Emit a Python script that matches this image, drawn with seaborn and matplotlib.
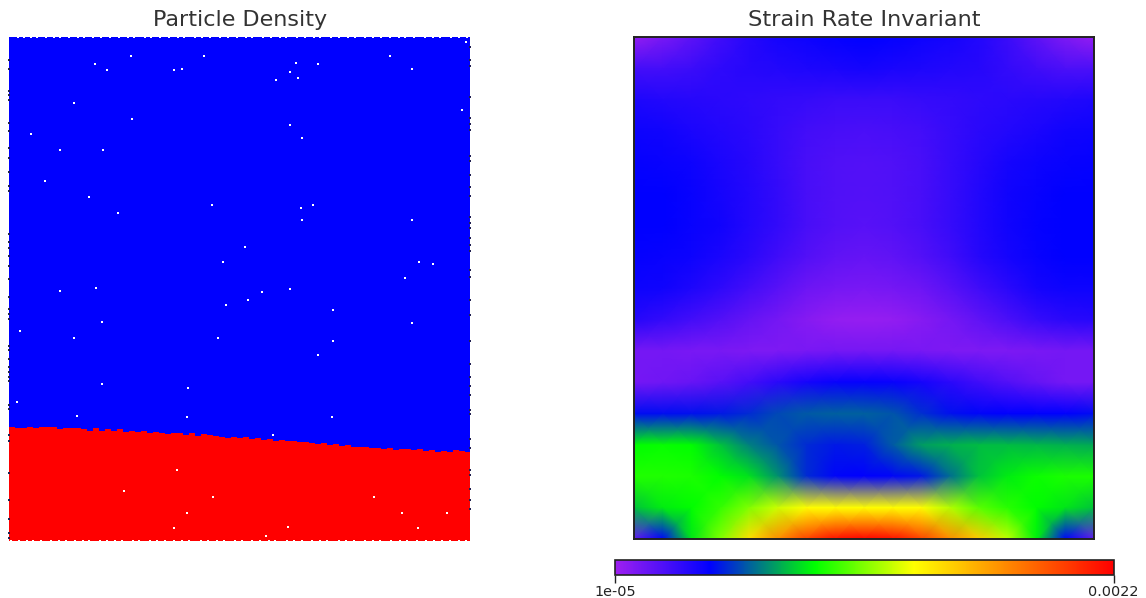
import numpy as np
import matplotlib
matplotlib.use("Agg")
import matplotlib.pyplot as plt
from matplotlib.colors import ListedColormap, LinearSegmentedColormap
import seaborn as sns

W, H = 1146, 598

# Particle panel: domain is 462 wide, 504 deep (top = 0)
interface_depth = [390.3,391.3,391.3,389.7,391.3,390.3,389.7,389.7,392.3,391.3,391.3,391.3,392.3,393.7,391.3,
                   393.7,392.3,393.7,392.3,394.7,393.7,394.7,393.7,395.7,394.7,395.7,397,396.3,395.7,398,
                   396.3,399,397,398,399,399.7,401.3,400.3,401.3,400.3,402.3,401.3,403,402.3,403.7,403,
                   404.3,403.7,404.7,404.7,405.7,407,406.3,407.7,407,409,407.7,409.7,410.3,409.7,411,
                   410.7,412,411.3,413,412.3,411.7,413,412.3,413.7,413,414.7,413.7,414.7,413,413.7,415.3]
holes_x = [122,86,98,165,173,195,267,281,287,289,309,381,403,457,453,281,293,304,292,293,403,236,
           65,123,22,51,94,36,80,109,203,214,410,424,396,51,87,253,281,239,217,324,93,403,11,65,209,324,
           309,93,179,8,68,178,323,264,168,115,204,365,178,393,438,165,279,409,257]
holes_y = [19,27,33,33,32,19,43,35,26,41,27,19,32,5,73,88,101,168,171,183,183,210,
           66,82,97,113,113,144,160,176,168,225,225,227,241,254,251,255,252,263,268,273,285,286,294,301,301,304,
           318,347,351,365,379,380,380,398,433,454,460,460,476,476,476,491,490,491,499]
top_gaps = [9,15,22,28,37,45,51,60,69,75,84,92,101,110,119,125,136,142,151,160,169,175,186,193,
            201,211,219,228,237,243,254,262,271,277,288,296,305,311,322,330,339,346,356,364,372,381,390,396,405,416,424,431,442,450,458]
bottom_gaps = [2,10,18,24,32,42,50,57,66,74,80,91,98,106,113,124,130,141,148,156,165,173,180,192,
               199,208,215,226,233,243,251,260,266,278,285,293,303,311,318,330,337,345,356,364,371,382,391,398,408,417,425,433,441,450,457]
left_ticks = [23,32,54,58,63,86,94,111,121,135,149,154,197,205,211,219,229,242,260,272,277,282,309,313,322,330,335,340,344,368,372,398,404,436,463,482,496,501]
right_ticks = [10,23,29,60,81,87,93,119,124,138,150,159,180,186,191,201,208,214,233,240,263,278,304,327,340,349,358,373,377,402,411,433,438,452,463,472]

# Strain rate panel: 17 x 17 mesh nodes, position along the colour scale, top row first
strain = np.array([
 [.015,.045,.08,.115,.145,.165,.175,.185,.19,.185,.175,.165,.15,.12,.08,.04,.015],
 [.11,.11,.12,.135,.145,.15,.155,.16,.165,.16,.155,.15,.145,.13,.115,.10,.10],
 [.155,.15,.145,.14,.135,.13,.125,.12,.12,.12,.125,.13,.135,.14,.145,.15,.155],
 [.175,.17,.16,.15,.14,.125,.11,.105,.10,.105,.11,.125,.14,.15,.16,.17,.175],
 [.185,.18,.175,.16,.145,.125,.105,.095,.09,.095,.105,.125,.145,.165,.175,.18,.185],
 [.19,.19,.18,.165,.15,.13,.105,.095,.09,.095,.105,.125,.15,.17,.18,.19,.19],
 [.19,.19,.18,.17,.15,.13,.105,.09,.085,.09,.105,.125,.15,.17,.185,.19,.19],
 [.185,.18,.175,.16,.14,.115,.09,.075,.07,.075,.09,.115,.145,.165,.18,.19,.19],
 [.175,.17,.155,.135,.11,.085,.06,.05,.045,.05,.06,.085,.115,.14,.165,.175,.175],
 [.145,.13,.11,.09,.07,.05,.03,.015,.01,.015,.03,.05,.075,.10,.125,.14,.145],
 [.05,.05,.045,.045,.04,.04,.045,.05,.05,.05,.045,.04,.04,.04,.045,.05,.05],
 [.05,.055,.065,.085,.11,.14,.165,.18,.185,.18,.165,.14,.115,.09,.07,.05,.05],
 [.20,.20,.205,.21,.225,.25,.265,.27,.27,.26,.23,.205,.195,.19,.19,.19,.20],
 [.40,.405,.40,.35,.295,.26,.225,.21,.215,.265,.32,.335,.345,.345,.34,.335,.33],
 [.425,.425,.42,.40,.375,.31,.225,.195,.19,.195,.21,.28,.35,.385,.41,.42,.42],
 [.35,.385,.40,.44,.50,.56,.60,.60,.60,.60,.60,.54,.47,.43,.40,.38,.35],
 [.07,.19,.38,.50,.65,.78,.90,.98,1,.98,.90,.78,.68,.55,.39,.19,.07],
])
scale_stops = [0, .19, .40, .60, 1]
scale_colors = ["#9e1ff0", "#0000ff", "#00ff00", "#ffff00", "#ff0000"]
scale_labels = ["1e-05", "0.0022"]
titles = ["Particle Density", "Strain Rate Invariant"]

sns.set_theme(style="white")
plt.rcParams["font.family"] = ["DejaVu Sans"]

def box(x0, y0, x1, y1):
    return [x0 / W, 1 - y1 / H, (x1 - x0) / W, (y1 - y0) / H]

fig = plt.figure(figsize=(W / 100, H / 100), dpi=100, facecolor="white")
ax1 = fig.add_axes(box(9, 37, 470.5, 541))
ax2 = fig.add_axes(box(634, 37.5, 1094, 539))
cax = fig.add_axes(box(615, 559.5, 1113.5, 575))

# Left: material map
depth = np.arange(504) + 0.5
columns = np.repeat(np.array(interface_depth), 6)
material = (depth[:, None] >= columns[None, :]).astype(int)
sns.heatmap(material, cmap=ListedColormap(["#0000ff", "#ff0000"]), vmin=0, vmax=1, cbar=False,
            xticklabels=False, yticklabels=False, ax=ax1, rasterized=True)
ax1.scatter(holes_x, holes_y, s=1.6, marker="s", c="white", linewidths=0, zorder=3)
ax1.scatter(top_gaps, np.full(len(top_gaps), 0.2), s=3.2, marker="s", c="white", linewidths=0, zorder=3, clip_on=True)
ax1.scatter(bottom_gaps, np.full(len(bottom_gaps), 503.8), s=3.2, marker="s", c="white", linewidths=0, zorder=3, clip_on=True)
ax1.scatter(np.zeros(len(left_ticks)), left_ticks, s=0.8, marker="s", c="#202050", linewidths=0, zorder=4, clip_on=False)
ax1.scatter(np.full(len(right_ticks), 461), right_ticks, s=0.8, marker="s", c="#202050", linewidths=0, zorder=4, clip_on=False)
for s in ax1.spines.values():
    s.set_visible(False)
ax1.set_title(titles[0], fontsize=16, color="#333333", pad=8)

# Right: strain rate field with colour interpolated across the mesh
cmap = LinearSegmentedColormap.from_list("strain", list(zip(scale_stops, scale_colors)), N=512)
ny, nx = strain.shape
ax2.pcolormesh(np.arange(nx), np.arange(ny), strain, cmap=cmap, vmin=0, vmax=1, shading="gouraud", rasterized=True)
ax2.set_xlim(0, nx - 1)
ax2.set_ylim(ny - 1, 0)
ax2.set_xticks([])
ax2.set_yticks([])
for s in ax2.spines.values():
    s.set_visible(True)
    s.set_color("#222222")
    s.set_linewidth(1.4)
ax2.set_title(titles[1], fontsize=16.2, color="#333333", pad=8.5)

# Colour bar
sm = plt.cm.ScalarMappable(cmap=cmap, norm=plt.Normalize(0, 1))
cb = fig.colorbar(sm, cax=cax, orientation="horizontal", ticks=[0, 1])
cb.ax.set_xticklabels(scale_labels, fontsize=10.4, color="#222222")
cb.ax.tick_params(axis="x", length=6, width=1, color="#222222", pad=1.5, bottom=True)
cb.outline.set_edgecolor("#222222")
cb.outline.set_linewidth(1.2)

fig.savefig("out.png", dpi=100, facecolor="white")
